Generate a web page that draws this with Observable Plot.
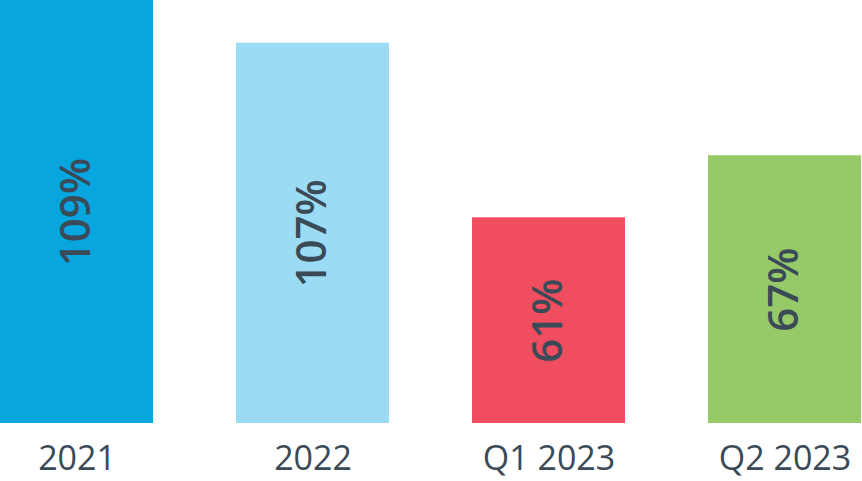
<!DOCTYPE html>
<html>
<head>
<meta charset="utf-8">
<script src="https://cdn.jsdelivr.net/npm/d3@7"></script>
<script src="https://cdn.jsdelivr.net/npm/@observablehq/plot@0.6"></script>
<style>
  html, body { margin: 0; padding: 0; background: #fff; }
  #chart svg { display: block; }
</style>
</head>
<body>
<div id="chart"></div>
<script>
const categories = ["2021", "2022", "Q1 2023", "Q2 2023"];
const barHeights = [109, 98, 53, 69];          // bar lengths as drawn in the picture
const valueLabels = ["109%", "107%", "61%", "67%"];
const colors = ["#08A6DF", "#9BDBF3", "#F04E5E", "#96C967"];

const data = categories.map((c, i) => ({category: c, height: barHeights[i], label: valueLabels[i]}));

const chart = Plot.plot({
  width: 862,
  height: 481,
  marginTop: 0,
  marginLeft: 0,
  marginRight: 0,
  marginBottom: 58,
  style: {fontFamily: "'Open Sans', sans-serif", background: "#fff"},
  x: {domain: categories, paddingInner: 0.352, paddingOuter: 0, align: 0, label: null},
  y: {domain: [0, 109], axis: null},
  color: {domain: categories, range: colors},
  marks: [
    Plot.barY(data, {x: "category", y: "height", fill: "category"}),
    Plot.text(data, {
      x: "category",
      y: d => d.height / 2,
      text: "label",
      rotate: -90,
      fontSize: 42,
      fontWeight: 600,
      fill: "#3A4A57",
      textAnchor: "middle",
      lineAnchor: "middle"
    }),
    Plot.axisX({tickSize: 0, tickPadding: 22, fontSize: 34, color: "#3A4A57", label: null})
  ]
});
document.getElementById("chart").appendChild(chart);
</script>
</body>
</html>
